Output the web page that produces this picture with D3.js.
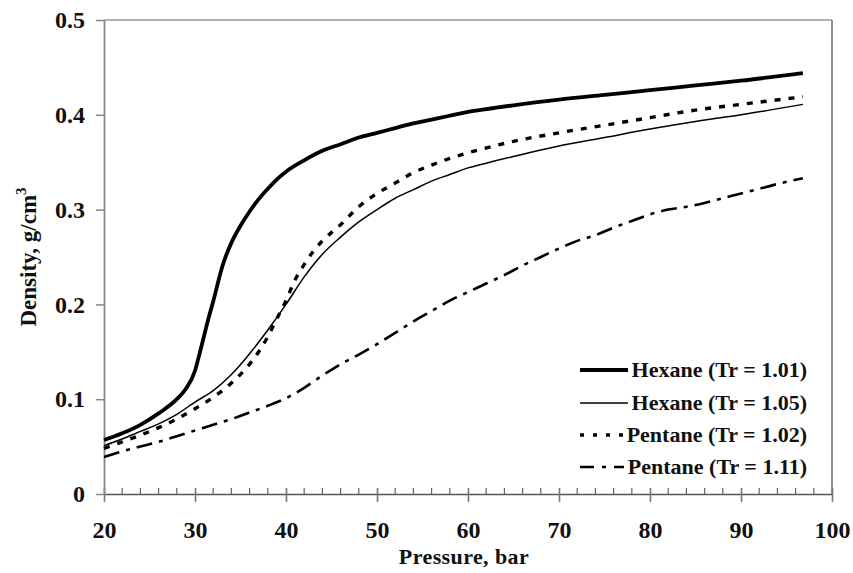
<!DOCTYPE html>
<html>
<head>
<meta charset="utf-8">
<script src="https://cdn.jsdelivr.net/npm/d3@7"></script>
<style>
  html, body { margin: 0; padding: 0; background: #fff; }
  svg { display: block; }
  text { font-family: "Liberation Serif", "Times New Roman", serif; font-weight: bold; fill: #111; }
</style>
</head>
<body>
<svg id="chart" width="853" height="573"></svg>
<script>
// Pressure (bar) and density (g/cm3) for each isotherm
const hexane101P = [20, 22, 24, 26, 28, 29, 30, 30.5, 31, 31.5, 32, 32.5, 33, 34, 35, 36, 37, 38, 39, 40, 42, 44, 46, 48, 50, 52, 54, 56, 58, 60, 62, 65, 70, 75, 80, 85, 90, 96.8];
const hexane101D = [0.057, 0.064, 0.073, 0.085, 0.100, 0.111, 0.130, 0.148, 0.167, 0.186, 0.203, 0.222, 0.240, 0.265, 0.283, 0.298, 0.311, 0.322, 0.332, 0.340, 0.352, 0.362, 0.369, 0.376, 0.381, 0.386, 0.391, 0.395, 0.399, 0.403, 0.406, 0.410, 0.416, 0.421, 0.426, 0.431, 0.436, 0.444];

const hexane105P = [20, 22, 24, 26, 28, 30, 32, 34, 36, 38, 40, 42, 44, 46, 48, 50, 52, 54, 56, 58, 60, 62, 65, 70, 75, 80, 85, 90, 96.8];
const hexane105D = [0.051, 0.058, 0.066, 0.074, 0.084, 0.097, 0.109, 0.126, 0.148, 0.173, 0.200, 0.229, 0.253, 0.271, 0.287, 0.300, 0.312, 0.321, 0.330, 0.337, 0.344, 0.349, 0.356, 0.367, 0.376, 0.385, 0.393, 0.400, 0.411];

const pentane102P = [20, 22, 24, 26, 28, 30, 32, 34, 36, 37, 38, 39, 40, 41, 42, 43, 44, 46, 48, 50, 52, 54, 56, 58, 60, 62, 65, 70, 75, 80, 85, 90, 96.8];
const pentane102D = [0.048, 0.055, 0.062, 0.070, 0.079, 0.090, 0.102, 0.117, 0.137, 0.150, 0.166, 0.185, 0.204, 0.226, 0.242, 0.256, 0.267, 0.284, 0.303, 0.317, 0.328, 0.339, 0.347, 0.354, 0.360, 0.365, 0.372, 0.381, 0.389, 0.397, 0.405, 0.411, 0.419];

const pentane111P = [20, 22, 24, 26, 28, 30, 32, 34, 36, 38, 40, 42, 44, 46, 48, 50, 52, 54, 56, 58, 60, 62, 64, 66, 68, 70, 72, 74, 76, 78, 80, 82, 84, 86, 88, 90, 92, 94, 96.8];
const pentane111D = [0.039, 0.045, 0.050, 0.055, 0.061, 0.067, 0.073, 0.079, 0.086, 0.093, 0.101, 0.112, 0.125, 0.137, 0.147, 0.158, 0.170, 0.182, 0.193, 0.204, 0.213, 0.222, 0.231, 0.241, 0.250, 0.259, 0.267, 0.273, 0.281, 0.288, 0.295, 0.300, 0.303, 0.307, 0.312, 0.317, 0.322, 0.327, 0.333];

const seriesNames = ["Hexane (Tr = 1.01)", "Hexane (Tr = 1.05)", "Pentane (Tr = 1.02)", "Pentane (Tr = 1.11)"];

const xTicks = [20, 30, 40, 50, 60, 70, 80, 90, 100];
const yTicks = [0, 0.1, 0.2, 0.3, 0.4, 0.5];
const yTickLabels = ["0", "0.1", "0.2", "0.3", "0.4", "0.5"];

const xLabel = "Pressure, bar";

// Line styles per series
const styles = [
  { width: 3.8, dash: null },
  { width: 1.5, dash: null },
  { width: 3.4, dash: "6,8" },
  { width: 2.6, dash: "16,7,4,7" }
];

const svg = d3.select("#chart");
const plot = { left: 104, right: 832, top: 20, bottom: 494 };

const x = d3.scaleLinear().domain([20, 100]).range([plot.left, plot.right]);
const y = d3.scaleLinear().domain([0, 0.5]).range([plot.bottom, plot.top]);

// frame: top and right edges
svg.append("line").attr("x1", plot.left).attr("x2", plot.right).attr("y1", plot.top).attr("y2", plot.top)
  .attr("stroke", "#999").attr("stroke-width", 1.6);
svg.append("line").attr("x1", plot.right).attr("x2", plot.right).attr("y1", plot.top).attr("y2", plot.bottom)
  .attr("stroke", "#777").attr("stroke-width", 1.6);

// x axis: major ticks crossing the axis, minor ticks inside every 2 bar
const minorX = d3.range(20, 100.01, 2).filter(v => v % 10 !== 0);
svg.append("g").selectAll("line").data(minorX).join("line")
  .attr("x1", d => x(d)).attr("x2", d => x(d))
  .attr("y1", plot.bottom - 6).attr("y2", plot.bottom)
  .attr("stroke", "#666").attr("stroke-width", 1.2);

const xAxis = svg.append("g")
  .attr("transform", `translate(0,${plot.bottom})`)
  .call(d3.axisBottom(x).tickValues(xTicks).tickSizeInner(8).tickSizeOuter(0).tickPadding(19).tickFormat(d3.format("d")));
xAxis.select(".domain").attr("stroke", "#555").attr("stroke-width", 1.6);
xAxis.selectAll(".tick line").attr("stroke", "#777").attr("stroke-width", 1.6).attr("y1", -6);
xAxis.selectAll(".tick text").attr("font-size", 24).attr("font-family", "Liberation Serif").attr("font-weight", "bold").attr("fill", "#111");

// y axis
const yAxis = svg.append("g")
  .attr("transform", `translate(${plot.left},0)`)
  .call(d3.axisLeft(y).tickValues(yTicks).tickSizeInner(8).tickSizeOuter(0).tickPadding(11)
    .tickFormat((d, i) => yTickLabels[i]));
yAxis.select(".domain").attr("stroke", "#888").attr("stroke-width", 1.8);
yAxis.selectAll(".tick line").attr("stroke", "#888").attr("stroke-width", 1.5);
yAxis.selectAll(".tick text").attr("font-size", 24).attr("font-family", "Liberation Serif").attr("font-weight", "bold").attr("fill", "#111");

// axis titles
svg.append("text").attr("x", 464).attr("y", 564).attr("text-anchor", "middle")
  .attr("font-size", 22).attr("letter-spacing", 0.4).text(xLabel);

const yTitle = svg.append("text")
  .attr("transform", "translate(36,257) rotate(-90)")
  .attr("text-anchor", "middle").attr("font-size", 23);
yTitle.append("tspan").text("Density, g/cm");
yTitle.append("tspan").attr("font-size", 15).attr("dy", -10).text("3");

// curves
const seriesData = [
  d3.zip(hexane101P, hexane101D),
  d3.zip(hexane105P, hexane105D),
  d3.zip(pentane102P, pentane102D),
  d3.zip(pentane111P, pentane111D)
];

const line = d3.line().x(d => x(d[0])).y(d => y(d[1])).curve(d3.curveMonotoneX);

svg.append("g").selectAll("path").data(seriesData).join("path")
  .attr("d", line)
  .attr("fill", "none")
  .attr("stroke", "#000")
  .attr("stroke-width", (d, i) => styles[i].width)
  .attr("stroke-dasharray", (d, i) => styles[i].dash)
  .attr("stroke-linejoin", "round");

// legend
const legendRows = [370, 403, 435, 467];
const legend = svg.append("g");
seriesNames.forEach((name, i) => {
  legend.append("line")
    .attr("x1", 580).attr("x2", i >= 2 ? 624 : 628)
    .attr("y1", legendRows[i]).attr("y2", legendRows[i])
    .attr("stroke", "#000")
    .attr("stroke-width", styles[i].width)
    .attr("stroke-dasharray", i === 2 ? "4,9" : (i === 3 ? "14,8,4,8" : null));
  legend.append("text")
    .attr("x", 807).attr("y", legendRows[i] + 7)
    .attr("text-anchor", "end").attr("font-size", 22)
    .text(name);
});
</script>
</body>
</html>
